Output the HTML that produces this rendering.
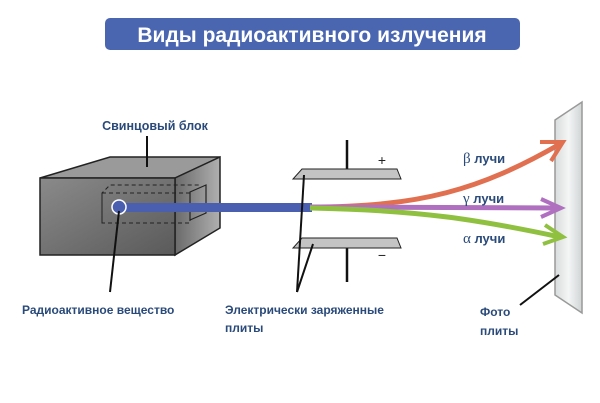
<!DOCTYPE html>
<html><head><meta charset="utf-8"><style>
body{margin:0;background:#fff;}
svg{display:block;}
text{font-family:"Liberation Sans",sans-serif;}
</style></head><body>
<svg width="600" height="403" viewBox="0 0 600 403" xmlns="http://www.w3.org/2000/svg">
<defs>
<linearGradient id="front" x1="0" y1="0" x2="1" y2="1"><stop offset="0" stop-color="#8a8a8a"/><stop offset="1" stop-color="#5a5a5a"/></linearGradient>
<linearGradient id="side" x1="0" y1="0" x2="1" y2="0"><stop offset="0" stop-color="#6a6a6a"/><stop offset="1" stop-color="#b0b0b0"/></linearGradient>
<linearGradient id="plate" x1="0" y1="0" x2="1" y2="0"><stop offset="0" stop-color="#d8dcdc"/><stop offset="0.5" stop-color="#f4f6f6"/><stop offset="1" stop-color="#d0d4d4"/></linearGradient>
</defs>
<rect x="105" y="18" width="415" height="32" rx="5" fill="#4a66b0"/>
<text x="312" y="42" font-size="21" font-weight="bold" fill="#fff" text-anchor="middle">Виды радиоактивного излучения</text>

<polygon points="40,178 110,157 220,157 175,178" fill="#9a9a9a" stroke="#222" stroke-width="1.5"/>
<polygon points="175,178 220,157 220,228 175,255" fill="url(#side)" stroke="#222" stroke-width="1.5"/>
<rect x="40" y="178" width="135" height="77" fill="url(#front)" stroke="#222" stroke-width="1.5"/>
<polyline points="102,223 102,193 110,185 200,185" fill="none" stroke="#222" stroke-dasharray="4,3"/>
<rect x="102" y="193" width="88" height="30" fill="none" stroke="#222" stroke-dasharray="4,3"/>
<polygon points="190,192 206,185 206,213 190,220" fill="none" stroke="#222" stroke-width="1.2"/>
<rect x="119" y="203" width="193" height="9" fill="#4a5fb0"/>
<circle cx="119" cy="207" r="7" fill="#4a5fb0" stroke="#fff" stroke-width="1.5"/>

<line x1="147" y1="136" x2="147" y2="167" stroke="#111" stroke-width="2"/>
<text x="155" y="130" font-size="12.5" font-weight="bold" fill="#2a4a7a" text-anchor="middle">Свинцовый блок</text>
<line x1="119" y1="211" x2="110" y2="292" stroke="#111" stroke-width="2"/>
<text x="22" y="314" font-size="12" font-weight="bold" fill="#2a4a7a">Радиоактивное вещество</text>

<line x1="347" y1="140" x2="347" y2="172" stroke="#111" stroke-width="2.5"/>
<line x1="347" y1="246" x2="347" y2="282" stroke="#111" stroke-width="2.5"/>
<polygon points="302,169 397,169 401,179 293,179" fill="#c4c4c4" stroke="#222" stroke-width="1"/>
<polygon points="302,238 397,238 401,248 293,248" fill="#c4c4c4" stroke="#222" stroke-width="1"/>
<text x="382" y="165" font-size="14" fill="#222" text-anchor="middle">+</text>
<text x="382" y="260" font-size="14" fill="#222" text-anchor="middle">−</text>
<line x1="297" y1="292" x2="304" y2="175" stroke="#111" stroke-width="2"/>
<line x1="297" y1="292" x2="313" y2="244" stroke="#111" stroke-width="2"/>
<text x="225" y="314" font-size="12" font-weight="bold" fill="#2a4a7a">Электрически заряженные</text>
<text x="225" y="332" font-size="12" font-weight="bold" fill="#2a4a7a">плиты</text>

<polygon points="555,120 582,102 582,313 555,295" fill="url(#plate)" stroke="#999" stroke-width="1.5"/>

<path d="M310,207 C420,207 480,190 560,144" fill="none" stroke="#e07050" stroke-width="5"/>
<polyline points="540,142 563,142 551,161" fill="none" stroke="#e07050" stroke-width="4"/>
<path d="M310,207 L560,208" fill="none" stroke="#b070c0" stroke-width="5"/>
<polyline points="541,199 561,208 541,217" fill="none" stroke="#b070c0" stroke-width="4"/>
<path d="M310,208 C420,210 480,220 560,237" fill="none" stroke="#90c040" stroke-width="5"/>
<polyline points="545,225 563,237 543,244" fill="none" stroke="#90c040" stroke-width="4"/>

<text x="463" y="163" font-size="13" font-weight="bold" fill="#2a4a7a"><tspan font-family="Liberation Serif" font-weight="normal" font-size="15">β</tspan> лучи</text>
<text x="463" y="203" font-size="13" font-weight="bold" fill="#2a4a7a"><tspan font-family="Liberation Serif" font-weight="normal" font-size="15">γ</tspan> лучи</text>
<text x="463" y="243" font-size="13" font-weight="bold" fill="#2a4a7a"><tspan font-family="Liberation Serif" font-weight="normal" font-size="15">α</tspan> лучи</text>

<line x1="520" y1="305" x2="559" y2="275" stroke="#111" stroke-width="2"/>
<text x="480" y="316" font-size="12" font-weight="bold" fill="#2a4a7a">Фото</text>
<text x="480" y="335" font-size="12" font-weight="bold" fill="#2a4a7a">плиты</text>
</svg>
</body></html>
